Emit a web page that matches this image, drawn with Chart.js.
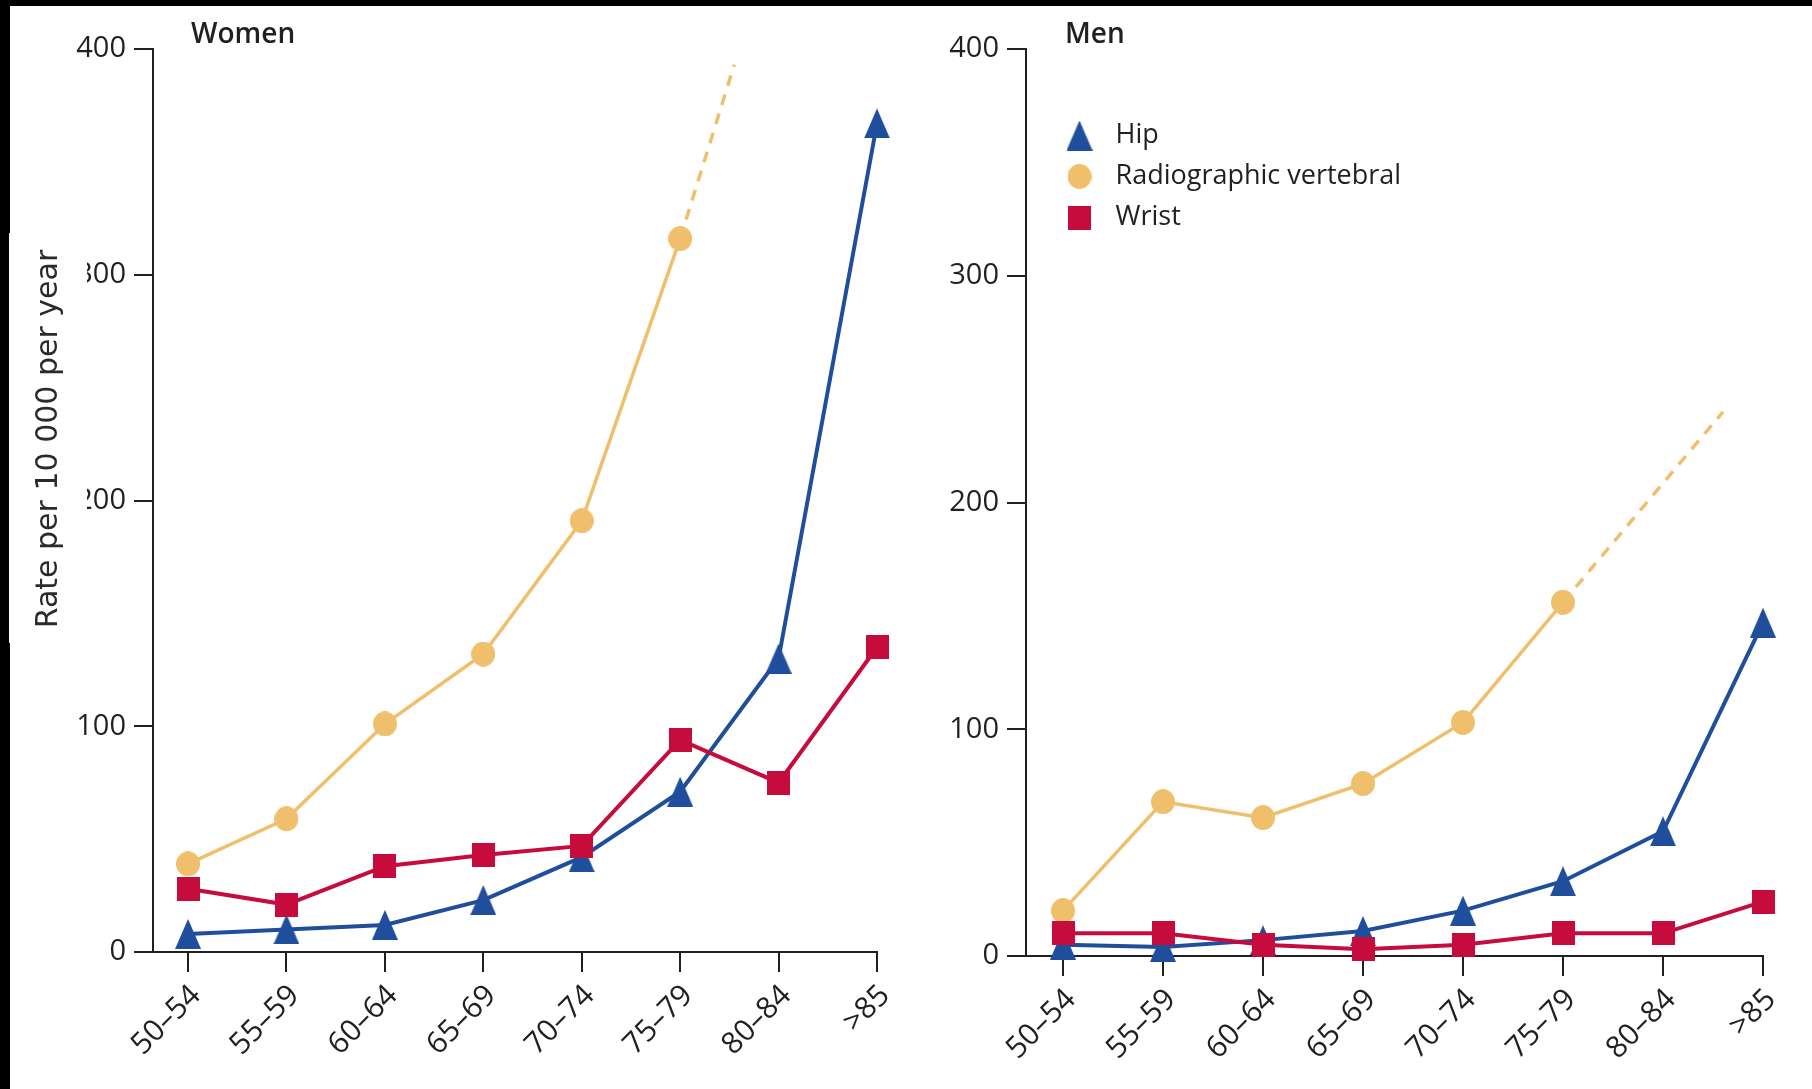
<!DOCTYPE html>
<html>
<head>
<meta charset="utf-8">
<title>Fracture incidence by age</title>
<script src="https://cdn.jsdelivr.net/npm/chart.js@4.4.1/dist/chart.umd.min.js"></script>
<style>
  html, body { margin: 0; padding: 0; background: #000; }
  body { width: 1812px; height: 1089px; overflow: hidden; position: relative; }
  #sheet { position: absolute; left: 10px; top: 6px; width: 1802px; height: 1083px; background: #fff; }
  #sheet canvas { position: absolute; top: 0; }
  #cw { left: 0; }
  #cm { left: 890px; }
  .panel-title { position: absolute; top: 14px; font-family: "Open Sans", sans-serif; font-weight: 600;
                 font-size: 28px; line-height: 25px; color: #231f20; white-space: nowrap; }
  #ypatch { position: absolute; left: -1px; top: 227px; width: 78px; height: 410px; background: #fff; }
  #ytitle { position: absolute; left: -173px; top: 413px; width: 420px; height: 40px; line-height: 40px;
            text-align: center; font-family: "DejaVu Sans", sans-serif; font-size: 30px; color: #2a2a2a;
            transform: rotate(-90deg); white-space: nowrap; }
</style>
</head>
<body>
<div id="sheet">
  <canvas id="cw" width="890" height="1083"></canvas>
  <canvas id="cm" width="912" height="1083"></canvas>
  <div class="panel-title" style="left:181px">Women</div>
  <div class="panel-title" style="left:1055px">Men</div>
  <div id="ypatch"></div>
  <div id="ytitle">Rate per 10 000 per year</div>
</div>
<script>
// Age bands on the horizontal axis and rate gridline values
const ageGroups = ['50–54', '55–59', '60–64', '65–69', '70–74', '75–79', '80–84', '>85'];
const rateTicks = [0, 100, 200, 300, 400];

// Women: rate per 10 000 per year
const womenHip        = [8, 10, 12, 23, 42, 71, 130, 367];
const womenVertebral  = [39, 59, 101, 132, 191, 316];
const womenWrist      = [28, 21, 38, 43, 47, 94, 75, 135];
const womenVertebralTrendEnd = { x: 5.55, y: 393 };

// Men: rate per 10 000 per year
const menHip          = [5, 4, 7, 11, 20, 33, 55, 147];
const menVertebral    = [20, 68, 61, 76, 103, 156];
const menWrist        = [10, 10, 5, 3, 5, 10, 10, 24];
const menVertebralTrendEnd = { x: 6.6, y: 240 };

const COLORS = { hip: '#1f4e9c', vertebral: '#efbf6c', wrist: '#c50c3d', ink: '#231f20' };

// Marker images (slightly taller than wide, as in print)
function marker(shape, w, h, color) {
  const c = document.createElement('canvas');
  c.width = w; c.height = h;
  const g = c.getContext('2d');
  g.fillStyle = color;
  g.beginPath();
  if (shape === 'triangle') {
    g.moveTo(w / 2, 0); g.lineTo(w, h); g.lineTo(0, h); g.closePath();
  } else if (shape === 'circle') {
    g.ellipse(w / 2, h / 2, w / 2, h / 2, 0, 0, Math.PI * 2);
  } else {
    g.rect(0, 0, w, h);
  }
  g.fill();
  return c;
}
const hipMark = marker('triangle', 26, 30, COLORS.hip);
const vertMark = marker('circle', 24, 25, COLORS.vertebral);
const wristMark = marker('rect', 23, 24, COLORS.wrist);

const toPoints = vals => vals.map((v, i) => ({ x: i, y: v }));

// Nudges the in-plot legend to its spot near the top-left of the plot
const legendShift = {
  id: 'legendShift',
  afterLayout(chart, args, opts) {
    if (chart.legend && chart.options.plugins.legend.display && opts.dx !== undefined) {
      chart.legend.left = chart.chartArea.left + opts.dx;
      chart.legend.top = chart.chartArea.top + opts.dy;
    }
  }
};

function buildPanel(canvas, hip, vert, wrist, trendEnd, cfg) {
  const lastVert = vert.length - 1;
  return new Chart(canvas, {
    type: 'line',
    data: {
      datasets: [
        { label: 'Hip', data: toPoints(hip), borderColor: COLORS.hip, backgroundColor: COLORS.hip,
          borderWidth: 4, pointStyle: hipMark, pointRadius: 12, order: 1, clip: false },
        { label: 'Radiographic vertebral', data: toPoints(vert), borderColor: COLORS.vertebral,
          backgroundColor: COLORS.vertebral, borderWidth: 3.5, pointStyle: vertMark, pointRadius: 12,
          order: 2, clip: false },
        { label: 'Wrist', data: toPoints(wrist), borderColor: COLORS.wrist, backgroundColor: COLORS.wrist,
          borderWidth: 4, pointStyle: wristMark, pointRadius: 12, order: 0, clip: false },
        { label: 'trend', data: [{ x: lastVert, y: vert[lastVert] }, trendEnd], borderColor: COLORS.vertebral,
          borderWidth: 3.5, borderDash: [11, 9], pointRadius: 0, order: 3, clip: false }
      ]
    },
    options: {
      responsive: false,
      animation: false,
      devicePixelRatio: 1,
      layout: { padding: { left: 0, top: 43, right: cfg.padRight, bottom: 0 } },
      elements: { line: { tension: 0 } },
      plugins: {
        tooltip: { enabled: false },
        legend: {
          display: cfg.legend,
          position: 'chartArea',
          align: 'start',
          labels: {
            filter: item => item.datasetIndex < 3,
            sort: (a, b) => a.datasetIndex - b.datasetIndex,
            usePointStyle: true, pointStyleWidth: 45, padding: 14,
            color: COLORS.ink, font: { family: 'Open Sans', size: 27 }
          }
        },
        legendShift: { dx: 17, dy: 59 }
      },
      scales: {
        x: {
          type: 'linear', min: cfg.xMin, max: ageGroups.length - 1,
          afterBuildTicks: s => { s.ticks = ageGroups.map((_, i) => ({ value: i })); },
          afterFit: s => { s.height = cfg.xAxisHeight; s.paddingLeft = 0; s.paddingRight = 0; },
          ticks: {
            callback: v => ageGroups[v], minRotation: 45, maxRotation: 45, autoSkip: false,
            padding: 6, labelOffset: 8, color: COLORS.ink, font: { family: 'Open Sans', size: 30 }
          },
          grid: { drawOnChartArea: false, tickLength: 20, color: COLORS.ink, lineWidth: 2 },
          border: { display: true, color: COLORS.ink, width: 2 }
        },
        y: {
          min: 0, max: 400,
          afterBuildTicks: s => { s.ticks = rateTicks.map(v => ({ value: v })); },
          afterFit: s => { s.width = cfg.yAxisWidth; },
          ticks: { padding: 8, color: COLORS.ink, font: { family: 'Open Sans', size: 29 } },
          grid: { drawOnChartArea: false, tickLength: 19, color: COLORS.ink, lineWidth: 2 },
          border: { display: true, color: COLORS.ink, width: 2 }
        }
      }
    },
    plugins: [legendShift]
  });
}

buildPanel(document.getElementById('cw'), womenHip, womenVertebral, womenWrist, womenVertebralTrendEnd,
  { padRight: 23, yAxisWidth: 143, xAxisHeight: 137, xMin: -0.356, legend: false });
buildPanel(document.getElementById('cm'), menHip, menVertebral, menWrist, menVertebralTrendEnd,
  { padRight: 49, yAxisWidth: 126, xAxisHeight: 133, xMin: -0.37, legend: true });
</script>
</body>
</html>
